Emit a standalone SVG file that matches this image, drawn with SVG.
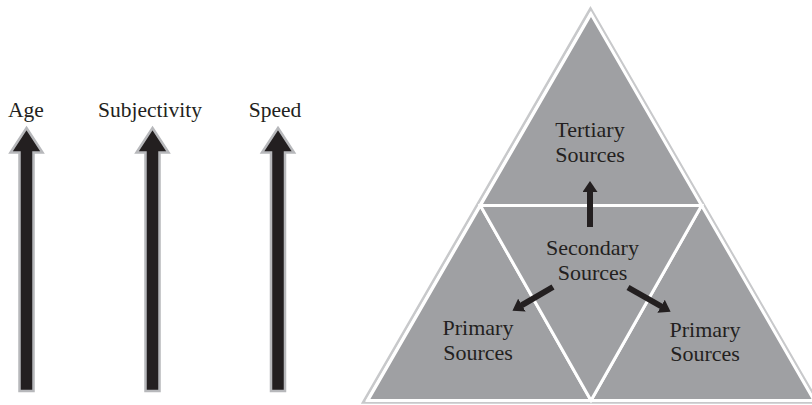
<svg xmlns="http://www.w3.org/2000/svg" width="812" height="405" viewBox="0 0 812 405">
<style>
.lbl{font-family:"Liberation Serif","Times New Roman",serif;fill:#231f20;text-anchor:middle}
.left{font-size:21.5px}
.tri{font-size:22px}
.big{fill:#231f20;stroke:#b7b8bb;stroke-width:2.5;stroke-linejoin:miter}
.sub{fill:#9fa0a3;stroke:#ffffff;stroke-width:3;stroke-linejoin:miter}
.conn{stroke:#231f20;stroke-width:6;fill:none}
</style>
<defs>
<marker id="ah" markerUnits="userSpaceOnUse" viewBox="0 0 11 15" refX="0.5" refY="7.5" markerWidth="11" markerHeight="15" orient="auto">
<path d="M0,0 L11,7.5 L0,15 z" fill="#231f20"/>
</marker>
</defs>
<rect width="812" height="405" fill="#ffffff"/>

<g id="age">
<path class="big" d="M26.5,128 L42.5,152.5 L33.5,152.5 L33.5,391 L19.5,391 L19.5,152.5 L10.5,152.5 Z"/>
<text class="lbl left" x="26" y="117">Age</text>
</g>
<g id="subjectivity">
<path class="big" d="M152.5,128 L168.5,152.5 L159.5,152.5 L159.5,391 L145.5,391 L145.5,152.5 L136.5,152.5 Z"/>
<text class="lbl left" x="150" y="117">Subjectivity</text>
</g>
<g id="speed">
<path class="big" d="M278,128 L294,152.5 L285,152.5 L285,391 L271,391 L271,152.5 L262,152.5 Z"/>
<text class="lbl left" x="275" y="117">Speed</text>
</g>

<g id="pyramid-frame">
<polygon points="590.5,8.5 363,402.5 818,402.5" fill="none" stroke="#c8c9cb" stroke-width="2.5"/>
</g>

<g id="tertiary">
<polygon class="sub" points="591,14 480.4,205.5 701.6,205.5"/>
<text class="lbl tri" x="590" y="137">Tertiary</text>
<text class="lbl tri" x="590" y="162">Sources</text>
</g>
<g id="primary-left">
<polygon class="sub" points="480.4,205.5 367.8,400.5 591,400.5"/>
<text class="lbl tri" x="478" y="335">Primary</text>
<text class="lbl tri" x="478" y="360">Sources</text>
</g>
<g id="primary-right">
<polygon class="sub" points="701.6,205.5 591,400.5 814.2,400.5"/>
<text class="lbl tri" x="705" y="336.5">Primary</text>
<text class="lbl tri" x="705" y="361">Sources</text>
</g>
<g id="secondary">
<polygon class="sub" points="480.4,205.5 701.6,205.5 591,400.5"/>
<text class="lbl tri" x="592.5" y="255">Secondary</text>
<text class="lbl tri" x="592.5" y="279.5">Sources</text>
</g>

<g id="connectors">
<line class="conn" x1="590" y1="227" x2="590" y2="191.5" marker-end="url(#ah)"/>
<line class="conn" x1="553" y1="287" x2="521.5" y2="305.4" marker-end="url(#ah)"/>
<line class="conn" x1="628" y1="287.5" x2="661.5" y2="306.5" marker-end="url(#ah)"/>
</g>
</svg>
